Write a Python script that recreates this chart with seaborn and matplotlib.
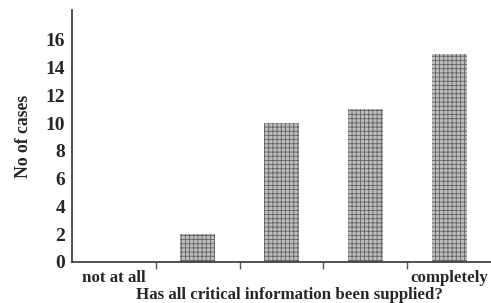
import matplotlib
matplotlib.use("Agg")
import matplotlib.pyplot as plt
import seaborn as sns
import pandas as pd

categories = ["1", "2", "3", "4", "5"]
tick_labels = ["not at all", "", "", "", "completely"]
cases = [0, 2, 10, 11, 15]
y_ticks = [0, 2, 4, 6, 8, 10, 12, 14, 16]

sns.set_style("white")
plt.rcParams["font.family"] = ["Liberation Serif", "DejaVu Serif"]
plt.rcParams["font.weight"] = "bold"
plt.rcParams["hatch.color"] = "#626262"
plt.rcParams["hatch.linewidth"] = 0.6

df = pd.DataFrame({"cat": categories, "n": cases})

fig = plt.figure(figsize=(4.91, 3.03), dpi=100)
ax = fig.add_axes([72 / 491, 41 / 303, 419 / 491, 252 / 303])
sns.barplot(data=df, x="cat", y="n", order=categories, color="#bdbdbd",
            width=0.42, ax=ax, edgecolor="#626262", linewidth=0, saturation=1)
for p in ax.patches:
    p.set_hatch("++++")
    p.set_linewidth(0)

ax.set_xlim(-0.5, 4.5)
ax.set_ylim(0, 18.15)
ax.set_yticks(y_ticks)
ax.set_yticklabels([str(v) for v in y_ticks], fontsize=14, fontweight="bold")
ax.set_xticks(range(5))
ax.set_xticklabels(tick_labels, fontsize=12.2, fontweight="bold")
ax.set_xticks([0.5, 1.5, 2.5, 3.5], minor=True)
ax.tick_params(axis="x", which="major", length=0, pad=6)
ax.tick_params(axis="x", which="minor", length=5, width=1, color="#555555", direction="out", bottom=True)
ax.tick_params(axis="y", length=0, pad=5)
for s in ["top", "right"]:
    ax.spines[s].set_visible(False)
for s in ["left", "bottom"]:
    ax.spines[s].set_color("#333333")
    ax.spines[s].set_linewidth(1.2)
ax.set_xlabel("Has all critical information been supplied?", fontsize=12.2,
              fontweight="bold", labelpad=0)
ax.set_ylabel("No of cases", fontsize=12.7, fontweight="bold", labelpad=10)
ax.xaxis.set_label_coords(0.52, -0.1)

fig.savefig("out.png", dpi=100)
